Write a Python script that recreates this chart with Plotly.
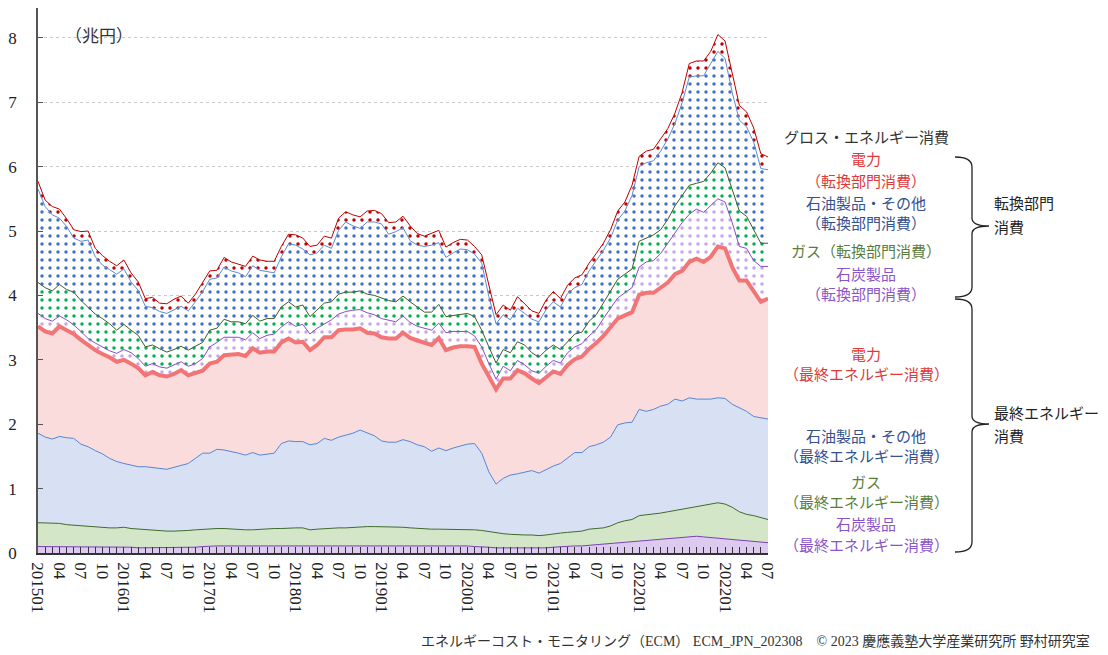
import plotly.graph_objects as go

# 月次データ（兆円）2015年1月〜2023年7月
coal_final = [0.10, 0.10, 0.10, 0.10, 0.10, 0.10, 0.09, 0.09, 0.09, 0.09, 0.09, 0.09,
              0.09, 0.09, 0.08, 0.08, 0.08, 0.08, 0.08, 0.08, 0.08, 0.08, 0.09, 0.10,
              0.11, 0.11, 0.11, 0.11, 0.11, 0.11, 0.11, 0.11, 0.11, 0.11, 0.11, 0.11,
              0.11, 0.11, 0.11, 0.11, 0.11, 0.11, 0.11, 0.11, 0.11, 0.12, 0.12, 0.12,
              0.12, 0.12, 0.11, 0.11, 0.11, 0.11, 0.11, 0.11, 0.11, 0.11, 0.11, 0.11,
              0.11, 0.10, 0.10, 0.09, 0.08, 0.08, 0.08, 0.07, 0.07, 0.07, 0.07, 0.08,
              0.09, 0.10, 0.10, 0.11, 0.11, 0.12, 0.13, 0.13, 0.14, 0.15, 0.16, 0.17,
              0.19, 0.20, 0.20, 0.21, 0.22, 0.24, 0.25, 0.26, 0.26, 0.25, 0.24, 0.24,
              0.23, 0.22, 0.21, 0.20, 0.19, 0.17, 0.16]
gas_final = [0.37, 0.37, 0.36, 0.36, 0.34, 0.33, 0.33, 0.32, 0.31, 0.31, 0.30, 0.30,
             0.31, 0.29, 0.29, 0.29, 0.28, 0.27, 0.26, 0.26, 0.26, 0.27, 0.27, 0.27,
             0.27, 0.27, 0.27, 0.26, 0.26, 0.25, 0.25, 0.26, 0.26, 0.27, 0.27, 0.28,
             0.28, 0.28, 0.25, 0.26, 0.27, 0.27, 0.28, 0.28, 0.29, 0.28, 0.29, 0.29,
             0.29, 0.29, 0.29, 0.29, 0.28, 0.27, 0.26, 0.26, 0.26, 0.26, 0.26, 0.26,
             0.26, 0.26, 0.25, 0.24, 0.23, 0.22, 0.21, 0.21, 0.21, 0.21, 0.20, 0.20,
             0.21, 0.21, 0.22, 0.22, 0.23, 0.25, 0.25, 0.26, 0.28, 0.32, 0.34, 0.35,
             0.39, 0.39, 0.40, 0.41, 0.42, 0.42, 0.43, 0.44, 0.46, 0.49, 0.52, 0.54,
             0.53, 0.49, 0.43, 0.40, 0.39, 0.38, 0.36]
oil_final = [1.39, 1.33, 1.31, 1.35, 1.35, 1.35, 1.27, 1.24, 1.19, 1.14, 1.08, 1.03,
             0.99, 0.98, 0.97, 0.97, 0.97, 0.97, 0.96, 0.99, 1.02, 1.04, 1.11, 1.18,
             1.17, 1.23, 1.22, 1.21, 1.18, 1.16, 1.20, 1.15, 1.17, 1.17, 1.32, 1.35,
             1.34, 1.34, 1.32, 1.33, 1.40, 1.37, 1.41, 1.44, 1.46, 1.51, 1.45, 1.41,
             1.33, 1.31, 1.32, 1.36, 1.34, 1.30, 1.28, 1.21, 1.26, 1.22, 1.26, 1.29,
             1.32, 1.34, 1.20, 0.93, 0.76, 0.86, 0.92, 0.95, 0.98, 1.00, 0.97, 1.02,
             1.05, 1.08, 1.16, 1.23, 1.22, 1.28, 1.30, 1.33, 1.38, 1.52, 1.52, 1.51,
             1.65, 1.61, 1.63, 1.66, 1.67, 1.73, 1.68, 1.71, 1.67, 1.65, 1.63, 1.63,
             1.64, 1.60, 1.62, 1.60, 1.54, 1.55, 1.56]
elec_final = [1.66, 1.64, 1.64, 1.71, 1.67, 1.62, 1.62, 1.58, 1.56, 1.55, 1.57, 1.55,
              1.61, 1.58, 1.53, 1.42, 1.48, 1.44, 1.44, 1.45, 1.48, 1.37, 1.32, 1.28,
              1.39, 1.36, 1.47, 1.50, 1.54, 1.54, 1.62, 1.59, 1.59, 1.58, 1.57, 1.59,
              1.54, 1.55, 1.47, 1.53, 1.57, 1.60, 1.66, 1.64, 1.61, 1.58, 1.56, 1.59,
              1.61, 1.61, 1.61, 1.66, 1.61, 1.62, 1.61, 1.65, 1.71, 1.56, 1.56, 1.55,
              1.52, 1.50, 1.39, 1.48, 1.47, 1.55, 1.50, 1.61, 1.53, 1.43, 1.40, 1.43,
              1.47, 1.39, 1.44, 1.45, 1.49, 1.52, 1.58, 1.65, 1.70, 1.65, 1.67, 1.71,
              1.78, 1.84, 1.81, 1.84, 1.89, 1.94, 2.02, 2.11, 2.18, 2.13, 2.21, 2.35,
              2.33, 2.13, 1.97, 2.03, 1.94, 1.80, 1.87]
coal_conv = [0.20, 0.20, 0.19, 0.16, 0.16, 0.14, 0.13, 0.10, 0.11, 0.11, 0.10, 0.13,
             0.16, 0.17, 0.15, 0.14, 0.13, 0.13, 0.13, 0.14, 0.13, 0.14, 0.15, 0.19,
             0.26, 0.30, 0.28, 0.27, 0.26, 0.25, 0.24, 0.22, 0.25, 0.27, 0.24, 0.26,
             0.25, 0.27, 0.25, 0.26, 0.21, 0.27, 0.25, 0.28, 0.30, 0.29, 0.31, 0.29,
             0.29, 0.28, 0.26, 0.26, 0.24, 0.22, 0.23, 0.23, 0.23, 0.27, 0.25, 0.23,
             0.23, 0.17, 0.26, 0.20, 0.16, 0.19, 0.12, 0.15, 0.13, 0.12, 0.15, 0.17,
             0.17, 0.17, 0.19, 0.19, 0.20, 0.20, 0.21, 0.27, 0.30, 0.32, 0.35, 0.38,
             0.43, 0.48, 0.50, 0.53, 0.61, 0.64, 0.75, 0.74, 0.77, 0.77, 0.79, 0.74,
             0.72, 0.69, 0.53, 0.50, 0.48, 0.55, 0.50]
gas_conv = [0.48, 0.48, 0.47, 0.49, 0.47, 0.51, 0.48, 0.49, 0.45, 0.44, 0.42, 0.36,
            0.39, 0.35, 0.36, 0.30, 0.29, 0.28, 0.25, 0.24, 0.24, 0.25, 0.27, 0.25,
            0.26, 0.22, 0.28, 0.24, 0.24, 0.25, 0.27, 0.27, 0.26, 0.24, 0.31, 0.31,
            0.30, 0.30, 0.27, 0.28, 0.32, 0.28, 0.31, 0.30, 0.28, 0.29, 0.29, 0.30,
            0.32, 0.31, 0.31, 0.31, 0.32, 0.30, 0.25, 0.28, 0.29, 0.25, 0.25, 0.27,
            0.28, 0.30, 0.26, 0.26, 0.25, 0.26, 0.28, 0.29, 0.31, 0.28, 0.25, 0.25,
            0.24, 0.21, 0.17, 0.20, 0.18, 0.23, 0.23, 0.24, 0.26, 0.29, 0.29, 0.29,
            0.40, 0.37, 0.40, 0.37, 0.37, 0.42, 0.42, 0.45, 0.40, 0.48, 0.51, 0.56,
            0.53, 0.53, 0.55, 0.50, 0.48, 0.36, 0.36]
oil_conv = [1.45, 1.26, 1.18, 1.03, 0.98, 0.84, 0.92, 1.04, 0.89, 0.83, 0.84, 0.87,
            0.86, 0.75, 0.70, 0.63, 0.58, 0.58, 0.60, 0.62, 0.62, 0.61, 0.69, 0.79,
            0.79, 0.78, 0.81, 0.79, 0.76, 0.73, 0.77, 0.79, 0.73, 0.71, 0.78, 0.90,
            0.96, 0.87, 0.96, 0.89, 0.90, 0.83, 0.99, 1.09, 1.03, 0.97, 1.12, 1.14,
            1.15, 1.03, 1.09, 1.06, 0.95, 0.96, 1.02, 1.04, 0.96, 0.92, 0.97, 1.01,
            0.99, 0.97, 1.04, 0.78, 0.61, 0.54, 0.51, 0.52, 0.49, 0.52, 0.55, 0.63,
            0.67, 0.66, 0.75, 0.72, 0.74, 0.78, 0.84, 0.82, 0.83, 0.92, 0.98, 1.14,
            1.16, 1.17, 1.15, 1.22, 1.25, 1.28, 1.44, 1.68, 1.67, 1.64, 1.70, 1.73,
            1.70, 1.49, 1.41, 1.39, 1.36, 1.16, 1.14]
elec_conv = [0.12, 0.10, 0.13, 0.14, 0.12, 0.13, 0.15, 0.14, 0.13, 0.15, 0.13, 0.13,
             0.14, 0.14, 0.13, 0.12, 0.16, 0.13, 0.15, 0.16, 0.16, 0.12, 0.12, 0.13,
             0.13, 0.12, 0.15, 0.14, 0.13, 0.16, 0.15, 0.16, 0.16, 0.18, 0.16, 0.15,
             0.16, 0.17, 0.13, 0.12, 0.14, 0.16, 0.19, 0.16, 0.17, 0.18, 0.17, 0.18,
             0.16, 0.18, 0.15, 0.18, 0.23, 0.18, 0.16, 0.18, 0.19, 0.16, 0.16, 0.15,
             0.15, 0.12, 0.13, 0.18, 0.14, 0.15, 0.15, 0.18, 0.15, 0.13, 0.13, 0.15,
             0.16, 0.13, 0.13, 0.15, 0.15, 0.12, 0.11, 0.11, 0.13, 0.14, 0.14, 0.16,
             0.16, 0.18, 0.18, 0.19, 0.16, 0.16, 0.16, 0.21, 0.23, 0.23, 0.19, 0.26,
             0.27, 0.30, 0.23, 0.23, 0.22, 0.23, 0.20]

# 3ヶ月ごとの目盛りラベル（元図のまま）
tick_labels = ["201501", "04", "07", "10", "201601", "04", "07", "10",
               "201701", "04", "07", "10", "201801", "04", "07", "10",
               "201901", "04", "07", "10", "202001", "04", "07", "10",
               "202101", "04", "07", "10", "202201", "04", "07", "10",
               "202201", "04", "07"]

months = list(range(len(elec_conv)))
ticktext = []
for i in months:
    ticktext.append(tick_labels[i // 3] if i % 3 == 0 else "")

JP = "Noto Sans CJK JP"
SERIF = "Liberation Serif, Noto Sans CJK JP"

fig = go.Figure()

# 最終エネルギー消費（塗りつぶし）
final_series = [
    ("石炭製品（最終）", coal_final, "#dccbef", "#7a3fb5", 1),
    ("ガス（最終）", gas_final, "#d4e6c8", "#3e6b2a", 1),
    ("石油製品・その他（最終）", oil_final, "#d7e1f3", "#5585d4", 1),
    ("電力（最終）", elec_final, "#fbdcdc", "#f27475", 4),
]
for name, vals, fill, line, w in final_series:
    fig.add_trace(go.Scatter(
        x=months, y=vals, name=name, mode="lines", stackgroup="one",
        fillcolor=fill, line=dict(color=line, width=w)))

# 転換部門消費（ドット模様）
conv_series = [
    ("石炭製品（転換）", coal_conv, "#c9a3ea", "#8a4cc9"),
    ("ガス（転換）", gas_conv, "#00b050", "#3b5e2b"),
    ("石油製品・その他（転換）", oil_conv, "#4472c4", "#5b8bd8"),
    ("電力（転換）", elec_conv, "#c00000", "#c00000"),
]
for name, vals, dot, line in conv_series:
    fig.add_trace(go.Scatter(
        x=months, y=vals, name=name, mode="lines", stackgroup="one",
        fillcolor="white", line=dict(color=line, width=1),
        fillpattern=dict(shape=".", size=8, solidity=0.15, fgcolor=dot,
                         bgcolor="white", fillmode="replace")))

# 画面ピクセル -> paper座標（プロット領域 x:38-768, y:8-553）
X0, X1, Y0, Y1 = 38, 768, 8, 553


def px(x, y):
    return (x - X0) / (X1 - X0), (Y1 - y) / (Y1 - Y0)


def brace(top, mid, bottom, x0=955, x1=972, tip=989):
    pts = [
        ("M", [(x0, top)]),
        ("C", [(x0 + 11, top), (x1, top + 3), (x1, top + 10)]),
        ("L", [(x1, mid - 8)]),
        ("C", [(x1, mid - 3), (x1 + 6, mid), (tip, mid)]),
        ("C", [(x1 + 6, mid), (x1, mid + 3), (x1, mid + 8)]),
        ("L", [(x1, bottom - 10)]),
        ("C", [(x1, bottom - 3), (x0 + 11, bottom), (x0, bottom)]),
    ]
    s = ""
    for cmd, ps in pts:
        s += cmd + " " + " ".join("%.5f,%.5f" % px(a, b) for a, b in ps) + " "
    return s


fig.add_shape(type="path", path=brace(157, 226, 297), xref="paper", yref="paper",
              line=dict(color="#222", width=1.3))
fig.add_shape(type="path", path=brace(299, 424, 552), xref="paper", yref="paper",
              line=dict(color="#222", width=1.3))

# 右側のラベル
RED, BLUE, GREEN, PURPLE = "#e0393b", "#34508f", "#5a7d3c", "#8b55c9"
labels = [
    ("グロス・エネルギー消費", 866, 136, "#333"),
    ("電力", 866, 159, RED),
    ("（転換部門消費）", 866, 180, RED),
    ("石油製品・その他", 866, 203, BLUE),
    ("（転換部門消費）", 866, 223, BLUE),
    ("ガス（転換部門消費）", 866, 250, GREEN),
    ("石炭製品", 866, 273, PURPLE),
    ("（転換部門消費）", 866, 294, PURPLE),
    ("電力", 866, 353, RED),
    ("（最終エネルギー消費）", 866, 373, RED),
    ("石油製品・その他", 866, 435, BLUE),
    ("（最終エネルギー消費）", 866, 455, BLUE),
    ("ガス", 866, 482, GREEN),
    ("（最終エネルギー消費）", 866, 502, GREEN),
    ("石炭製品", 866, 523, PURPLE),
    ("（最終エネルギー消費）", 866, 544, PURPLE),
]
for text, x, y, c in labels:
    ax, ay = px(x, y)
    fig.add_annotation(text=text, x=ax, y=ay, xref="paper", yref="paper",
                       showarrow=False, xanchor="center", yanchor="middle",
                       font=dict(family=JP, size=15, color=c))

for text, y in [("転換部門", 203), ("消費", 227), ("最終エネルギー", 412), ("消費", 435)]:
    ax, ay = px(992, y)
    fig.add_annotation(text=text, x=ax, y=ay, xref="paper", yref="paper",
                       showarrow=False, xanchor="left", yanchor="middle",
                       font=dict(family=JP, size=15, color="#222"))

ax, ay = px(63, 35)
fig.add_annotation(text="（兆円）", x=ax, y=ay, xref="paper", yref="paper",
                   showarrow=False, xanchor="left", yanchor="middle",
                   font=dict(family=JP, size=17, color="#333"))

ax, ay = px(1092, 641)
fig.add_annotation(
    text="エネルギーコスト・モニタリング（ECM） ECM_JPN_202308　© 2023 慶應義塾大学産業研究所 野村研究室",
    x=ax, y=ay, xref="paper", yref="paper",
    showarrow=False, xanchor="right", yanchor="middle",
    font=dict(family=SERIF, size=14, color="#333"))

# ページの余白(8px)を見込んでサイズを決める
fig.update_layout(
    width=1100, height=647,
    margin=dict(l=30, r=340, t=0, b=102),
    paper_bgcolor="white", plot_bgcolor="white",
    showlegend=False,
    font=dict(family=SERIF, size=17, color="#222"),
)
fig.update_xaxes(
    range=[0, 102], tickmode="array", tickvals=months, ticktext=ticktext,
    tickangle=90, ticks="inside", ticklen=6, tickwidth=1, tickcolor="#333",
    showline=True, linecolor="#333", linewidth=1.5, showgrid=False, zeroline=False,
    ticklabelstandoff=4,
    tickfont=dict(family=SERIF, size=17, color="#222"),
)
fig.update_yaxes(
    range=[0, 545 / 64.4], tickvals=list(range(9)), ticks="inside", ticklen=5,
    tickcolor="#555", showline=True, linecolor="#555", linewidth=1.5,
    showgrid=True, gridcolor="#c8c8c8", griddash="dot", gridwidth=1, zeroline=False,
    ticklabelstandoff=16, tickfont=dict(family=SERIF, size=17, color="#222"),
)

fig.write_html("out.html")
